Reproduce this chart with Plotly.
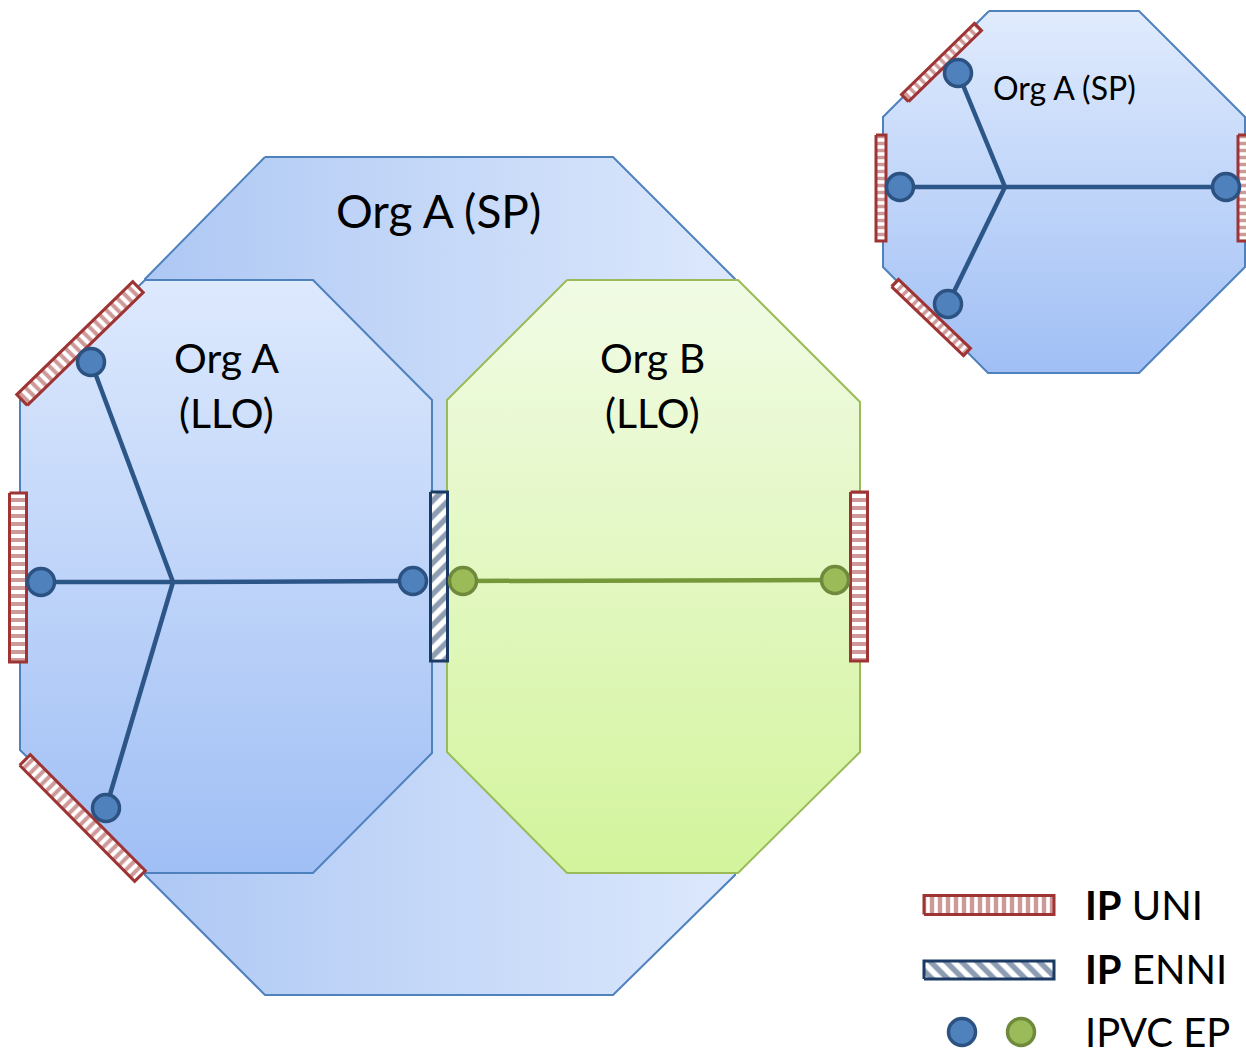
import numpy as np
import plotly.graph_objects as go

# shapes of the diagram, in picture pixels (y grows downwards)
big_sp_x = [265, 613, 735, 735, 613, 265, 145, 145]
big_sp_y = [157, 157, 279, 875, 995, 995, 875, 279]
llo_a_x = [145, 313, 432, 432, 313, 145, 20, 20]
llo_a_y = [280, 280, 400, 753, 873, 873, 750, 400]
llo_b_x = [567, 738, 860, 860, 738, 567, 447, 447]
llo_b_y = [280, 280, 402, 752, 873, 873, 752, 400]
small_sp_x = [989, 1139, 1245, 1245, 1139, 988, 883, 883]
small_sp_y = [11, 11, 117, 267, 373, 373, 267, 117]

# EVC trees: hub + endpoints
hub_a = (173, 582)
ends_a_x = [91, 41, 106, 413]
ends_a_y = [362, 582, 808, 581]
line_b_x = [463, 835]
line_b_y = [581, 580]
hub_s = (1005, 187)
ends_s_x = [958, 900, 948, 1226]
ends_s_y = [73, 187, 304, 187]

# interfaces: (x0, y0, x1, y1, width) centre line
uni_bars = [
    (18, 493, 18, 662, 17),
    (859, 492, 859, 661, 17),
    (22, 400, 138, 287, 15),
    (25, 760, 140, 876, 15),
    (881, 135, 881, 241, 10),
    (1243, 135, 1243, 241, 10),
    (905, 98, 978, 27, 10),
    (895, 283, 967, 352, 10),
]
enni_bars = [(439, 492, 439, 661, 17)]

legend_labels = ["<b>IP</b> UNI", "<b>IP</b> ENNI", "IPVC EP"]
legend_y = [905, 969, 1032]

BLUE_EDGE = "#4f81bd"
GREEN_EDGE = "#9bbb59"
RED = "#9e3434"
NAVY = "#1b3a64"

fig = go.Figure()


def octagon(xs, ys, c_top, c_bot, edge, kind="vertical"):
    # plotly puts colorscale 0 at the low data value; with the flipped y axis that's the bottom on screen
    scale = [[0, c_bot], [1, c_top]] if kind == "vertical" else [[0, c_top], [1, c_bot]]
    fig.add_trace(go.Scatter(
        x=xs + [xs[0]], y=ys + [ys[0]], mode="lines", fill="toself",
        fillgradient=dict(type=kind, colorscale=scale),
        line=dict(color=edge, width=2), hoverinfo="skip"))


octagon(big_sp_x, big_sp_y, "#aec8f4", "#dce8fc", BLUE_EDGE, "horizontal")
octagon(llo_a_x, llo_a_y, "#dde9fd", "#a0bff5", BLUE_EDGE)
octagon(llo_b_x, llo_b_y, "#f1fbe5", "#d3f49c", GREEN_EDGE)
octagon(small_sp_x, small_sp_y, "#e0ebfd", "#a0bff5", BLUE_EDGE)

# tree lines
for hub, ex, ey in [(hub_a, ends_a_x, ends_a_y), (hub_s, ends_s_x, ends_s_y)]:
    xs, ys = [], []
    for x, y in zip(ex, ey):
        xs += [hub[0], x, None]
        ys += [hub[1], y, None]
    fig.add_trace(go.Scatter(x=xs, y=ys, mode="lines",
                             line=dict(color="#2c5687", width=4.5), hoverinfo="skip"))
fig.add_trace(go.Scatter(x=line_b_x, y=line_b_y, mode="lines",
                         line=dict(color="#76973a", width=4.5), hoverinfo="skip"))


def bar(x0, y0, x1, y1, w, shape, fg, size, solidity):
    d = np.array([x1 - x0, y1 - y0], float)
    d /= np.linalg.norm(d)
    n = np.array([-d[1], d[0]]) * w / 2
    p0, p1 = np.array([x0, y0], float), np.array([x1, y1], float)
    pts = [p0 + n, p1 + n, p1 - n, p0 - n, p0 + n]
    fig.add_trace(go.Scatter(
        x=[p[0] for p in pts], y=[p[1] for p in pts], mode="lines", fill="toself",
        fillcolor="white",
        fillpattern=dict(shape=shape, fgcolor=fg, bgcolor="white", size=size,
                         solidity=solidity),
        line=dict(color=fg, width=3), hoverinfo="skip"))


for x0, y0, x1, y1, w in uni_bars:
    if x0 == x1:
        shape = "-"
    elif (x1 - x0) * (y1 - y0) < 0:
        shape = "\\"
    else:
        shape = "/"
    bar(x0, y0, x1, y1, w, shape, RED, 8 if w > 12 else 7, 0.5)
for x0, y0, x1, y1, w in enni_bars:
    bar(x0, y0, x1, y1, w, "/", NAVY, 11, 0.5)

# endpoints
fig.add_trace(go.Scatter(
    x=ends_a_x + ends_s_x, y=ends_a_y + ends_s_y, mode="markers",
    marker=dict(size=27, color="#4f81bd", line=dict(color="#2c5282", width=3.5)),
    hoverinfo="skip"))
fig.add_trace(go.Scatter(
    x=line_b_x, y=line_b_y, mode="markers",
    marker=dict(size=27, color="#9bbb59", line=dict(color="#6f8a3c", width=3.5)),
    hoverinfo="skip"))

# legend
bar(924, 905, 1054, 905, 19, "|", RED, 8, 0.55)
bar(924, 970, 1054, 970, 18, "\\", NAVY, 11, 0.5)
fig.add_trace(go.Scatter(
    x=[962], y=[1032], mode="markers",
    marker=dict(size=27, color="#4f81bd", line=dict(color="#2c5282", width=3.5)),
    hoverinfo="skip"))
fig.add_trace(go.Scatter(
    x=[1021], y=[1032], mode="markers",
    marker=dict(size=27, color="#9bbb59", line=dict(color="#6f8a3c", width=3.5)),
    hoverinfo="skip"))

FONT = "Lato"
texts = [
    (438, 210, "Org A (SP)", 46),
    (226, 357, "Org A", 41),
    (226, 412, "(LLO)", 41),
    (652, 357, "Org B", 41),
    (652, 412, "(LLO)", 41),
    (1064, 87, "Org A (SP)", 32),
]
for x, y, t, s in texts:
    fig.add_annotation(x=x, y=y, text=t, showarrow=False,
                       font=dict(family=FONT, size=s, color="black"))
for lab, y in zip(legend_labels, legend_y):
    fig.add_annotation(x=1083, y=y, text=lab, showarrow=False, xanchor="left",
                       font=dict(family=FONT, size=40, color="black"))

fig.update_layout(
    width=1246, height=1055, margin=dict(l=0, r=0, t=0, b=0),
    paper_bgcolor="white", plot_bgcolor="white", showlegend=False,
    xaxis=dict(range=[0, 1246], visible=False, fixedrange=True),
    yaxis=dict(range=[1055, 0], visible=False, fixedrange=True),
)
fig.write_html("out.html", config={"displayModeBar": False},
               post_script="document.body.style.margin='0';document.body.style.overflow='hidden';")
